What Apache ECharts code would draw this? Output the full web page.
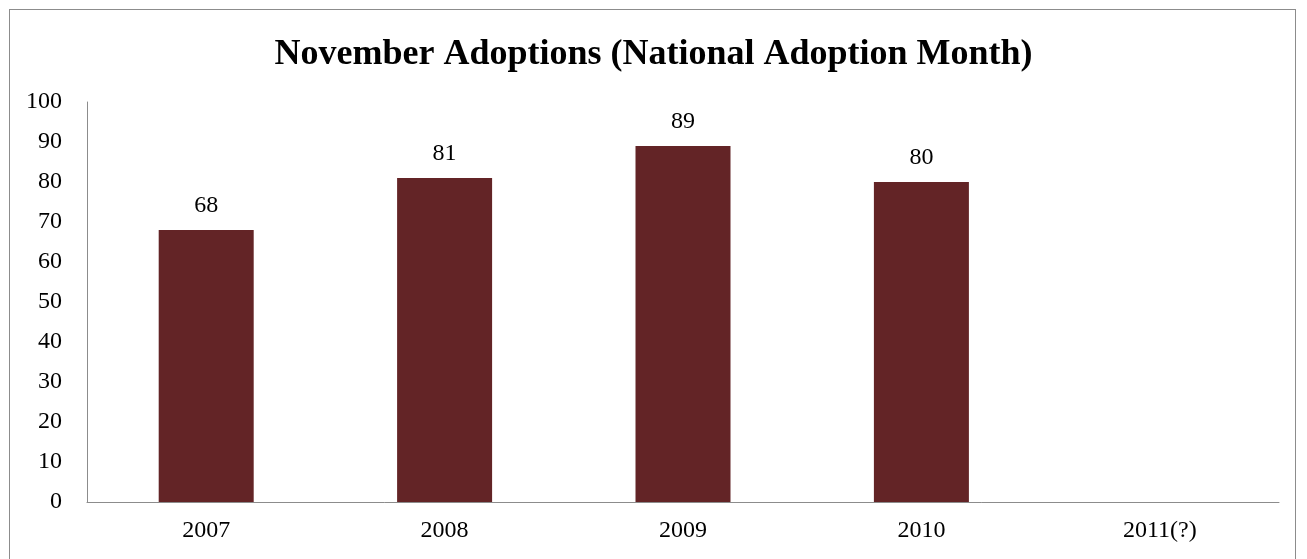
<!DOCTYPE html>
<html>
<head>
<meta charset="utf-8">
<script src="https://cdn.jsdelivr.net/npm/echarts@6/dist/echarts.min.js"></script>
<style>
  html, body { margin: 0; padding: 0; background: #fff; }
  #frame { position: absolute; left: 9px; top: 9px; width: 1287px; height: 560px; border: 1px solid #8c8c8c; box-sizing: border-box; }
  #chart { position: absolute; left: 0; top: 0; width: 1307px; height: 559px; }
</style>
</head>
<body>
<div id="frame"></div>
<div id="chart"></div>
<script>
const years = ['2007', '2008', '2009', '2010', '2011(?)'];
const adoptions = [68, 81, 89, 80, null];
const yTicks = { min: 0, max: 100, interval: 10 };

const serif = '"Liberation Serif", "DejaVu Serif", serif';

var myChart = echarts.init(document.getElementById('chart'));
var option = {
    animation: false,
    title: {
        text: 'November Adoptions (National Adoption Month)',
        left: 'center',
        top: 32,
        textStyle: { fontFamily: serif, fontSize: 36, fontWeight: 'bold', color: '#000' }
    },
    grid: { left: 87, right: 28, top: 102, bottom: 57 },
    xAxis: {
        type: 'category',
        data: years,
        axisLine: { lineStyle: { color: '#8c8c8c', width: 1 } },
        axisTick: { show: false },
        axisLabel: { fontFamily: serif, fontSize: 24, color: '#000', margin: 17 }
    },
    yAxis: {
        type: 'value',
        min: yTicks.min,
        max: yTicks.max,
        interval: yTicks.interval,
        splitLine: { show: false },
        axisLine: { show: true, lineStyle: { color: '#8c8c8c', width: 1 } },
        axisTick: { show: false },
        axisLabel: { fontFamily: serif, fontSize: 24, color: '#000', margin: 25 }
    },
    series: [{
        type: 'bar',
        data: adoptions,
        barWidth: 95,
        itemStyle: { color: '#632426' },
        label: {
            show: true,
            position: 'top',
            distance: 12,
            fontFamily: serif,
            fontSize: 24,
            color: '#000'
        }
    }]
};
option && myChart.setOption(option);
</script>
</body>
</html>
